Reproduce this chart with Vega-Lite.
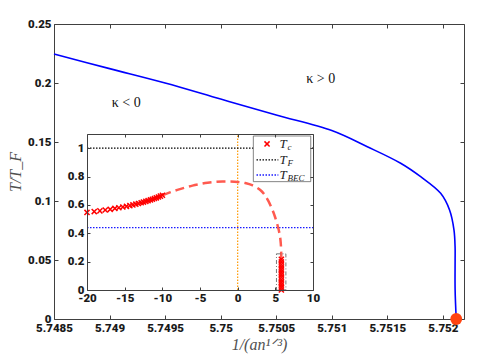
{
  "$schema": "https://vega.github.io/schema/vega-lite/v6.json",
  "width": 410,
  "height": 295,
  "autosize": {"type": "none"},
  "padding": {"left": 54, "top": 24, "right": 21, "bottom": 41},
  "background": "white",
  "config": {
    "view": {"stroke": null},
    "axis": {
      "labelFont": "Roboto",
      "labelFontWeight": 900,
      "labelFontSize": 11.5,
      "labelColor": "#1a1a1a",
      "labelFlush": false,
      "domainColor": "#404040",
      "tickColor": "#404040",
      "grid": false,
      "titleFont": "Liberation Serif",
      "titleFontStyle": "italic",
      "titleFontWeight": "normal",
      "titleColor": "#505050"
    }
  },
  "datasets": {
    "curve": [
      {"x": 5.7485, "y": 0.2246},
      {"x": 5.749, "y": 0.2122},
      {"x": 5.7495, "y": 0.2},
      {"x": 5.75, "y": 0.1864},
      {"x": 5.7505, "y": 0.1729},
      {"x": 5.751, "y": 0.1597},
      {"x": 5.75132, "y": 0.146},
      {"x": 5.75162, "y": 0.132},
      {"x": 5.7518, "y": 0.1206},
      {"x": 5.75198, "y": 0.1065},
      {"x": 5.75206, "y": 0.0924},
      {"x": 5.7521, "y": 0.0754},
      {"x": 5.75211, "y": 0.06},
      {"x": 5.75211, "y": 0.05},
      {"x": 5.75211, "y": 0.025},
      {"x": 5.75212, "y": 0}
    ],
    "dot": [{"x": 5.75212, "y": 0}],
    "kappa": [
      {"x": 5.74902, "y": 0.183, "label": "κ < 0"},
      {"x": 5.75077, "y": 0.2034, "label": "κ > 0"}
    ],
    "tc": [
      {"x": -20, "y": 0.547}, {"x": -19.04, "y": 0.553}, {"x": -18.29, "y": 0.558},
      {"x": -17.58, "y": 0.564}, {"x": -16.92, "y": 0.569}, {"x": -16.3, "y": 0.575},
      {"x": -15.77, "y": 0.58}, {"x": -15.24, "y": 0.585}, {"x": -14.76, "y": 0.59},
      {"x": -14.31, "y": 0.595}, {"x": -13.91, "y": 0.6}, {"x": -13.52, "y": 0.605},
      {"x": -13.17, "y": 0.61}, {"x": -12.81, "y": 0.615}, {"x": -12.51, "y": 0.62},
      {"x": -12.19, "y": 0.625}, {"x": -11.89, "y": 0.63}, {"x": -11.58, "y": 0.635},
      {"x": -11.32, "y": 0.64}, {"x": -11.05, "y": 0.645}, {"x": -10.79, "y": 0.65},
      {"x": -10.52, "y": 0.656}, {"x": -10.26, "y": 0.662}, {"x": -9.99, "y": 0.668},
      {"x": 5.8, "y": 0}, {"x": 5.81, "y": 0.018}, {"x": 5.8, "y": 0.036},
      {"x": 5.79, "y": 0.054}, {"x": 5.8, "y": 0.072}, {"x": 5.81, "y": 0.09},
      {"x": 5.8, "y": 0.108}, {"x": 5.79, "y": 0.126}, {"x": 5.8, "y": 0.144},
      {"x": 5.81, "y": 0.162}, {"x": 5.8, "y": 0.18}, {"x": 5.8, "y": 0.198},
      {"x": 5.8, "y": 0.216}
    ],
    "dashed": [
      {"x": -10, "y": 0.668}, {"x": -9, "y": 0.688}, {"x": -8, "y": 0.706},
      {"x": -7, "y": 0.722}, {"x": -6, "y": 0.736}, {"x": -5, "y": 0.747},
      {"x": -4, "y": 0.756}, {"x": -3, "y": 0.762}, {"x": -2, "y": 0.765},
      {"x": -1, "y": 0.765}, {"x": 0, "y": 0.762}, {"x": 1, "y": 0.754},
      {"x": 2, "y": 0.737}, {"x": 3, "y": 0.705}, {"x": 3.6, "y": 0.67},
      {"x": 4, "y": 0.635}, {"x": 4.5, "y": 0.58}, {"x": 4.93, "y": 0.52},
      {"x": 5.3, "y": 0.455}, {"x": 5.59, "y": 0.388}, {"x": 5.72, "y": 0.33},
      {"x": 5.78, "y": 0.26}, {"x": 5.8, "y": 0.15}, {"x": 5.81, "y": 0}
    ]
  },
  "layer": [
    {
      "encoding": {
        "x": {
          "field": "x", "type": "quantitative",
          "scale": {"domain": [5.7485, 5.75219], "nice": false, "zero": false},
          "axis": {
            "values": [5.7485, 5.749, 5.7495, 5.75, 5.7505, 5.751, 5.7515, 5.752],
            "format": "~g", "tickSize": -4, "labelPadding": 7,
            "title": "1/(an¹ᐟ³)", "titleFontSize": 16, "titlePadding": 3
          }
        },
        "y": {
          "field": "y", "type": "quantitative",
          "scale": {"domain": [0, 0.25], "nice": false},
          "axis": {
            "values": [0, 0.05, 0.1, 0.15, 0.2, 0.25],
            "format": "~g", "tickSize": -4, "labelPadding": 7,
            "title": "T/T_F", "titleFontSize": 16, "titlePadding": 4
          }
        }
      },
      "layer": [
        {"data": {"name": "curve"}, "mark": {"type": "line", "stroke": "#0000ff", "strokeWidth": 1.6, "interpolate": "catmull-rom"}},
        {"data": {"name": "kappa"}, "mark": {"type": "text", "align": "left", "baseline": "middle", "font": "Liberation Serif", "fontSize": 14, "fill": "#111"}, "encoding": {"text": {"field": "label"}}},
        {"data": {"name": "dot"}, "mark": {"type": "point", "filled": true, "shape": "circle", "size": 140, "fill": "#ff4411", "opacity": 1}}
      ]
    },
    {
      "data": {"name": "dot"},
      "mark": {"type": "point", "opacity": 0},
      "encoding": {
        "x": {
          "field": "x", "type": "quantitative",
          "scale": {"domain": [5.7485, 5.75219], "nice": false, "zero": false},
          "axis": {"orient": "top", "labels": false, "title": null, "tickSize": -4,
            "values": [5.7485, 5.749, 5.7495, 5.75, 5.7505, 5.751, 5.7515, 5.752]}
        },
        "y": {
          "field": "y", "type": "quantitative",
          "scale": {"domain": [0, 0.25], "nice": false},
          "axis": {"orient": "right", "labels": false, "title": null, "tickSize": -4,
            "values": [0, 0.05, 0.1, 0.15, 0.2, 0.25]}
        }
      }
    },
    {
      "encoding": {
        "x": {
          "field": "x", "type": "quantitative",
          "scale": {"domain": [-20, 10], "range": [33, 259], "nice": false, "zero": false},
          "axis": {
            "orient": "bottom", "offset": -29, "zindex": 1,
            "values": [-20, -15, -10, -5, 0, 5, 10], "tickSize": -3, "labelPadding": 5,
            "labelExpr": "replace(datum.label, '\u2212', '-')", "title": null
          }
        },
        "y": {
          "field": "y", "type": "quantitative",
          "scale": {"domain": [0, 1.1], "range": [266, 110], "nice": false, "zero": false},
          "axis": {
            "orient": "left", "offset": -33, "zindex": 1,
            "values": [0, 0.2, 0.4, 0.6, 0.8, 1], "format": "~g", "tickSize": -3, "labelPadding": 6,
            "title": null
          }
        }
      },
      "layer": [
        {"data": {"values": [{"x": -20, "x2": 10, "y": 0, "y2": 1.1}]}, "mark": {"type": "rect", "fill": "white", "strokeWidth": 0}, "encoding": {"x2": {"field": "x2"}, "y2": {"field": "y2"}}},
        {"data": {"values": [{"x": 0, "y": 0, "y2": 1.1}]}, "mark": {"type": "rule", "stroke": "#ff9900", "strokeWidth": 1.2, "strokeDash": [1.5, 1.5]}, "encoding": {"y2": {"field": "y2"}}},
        {"data": {"values": [{"x": -20, "x2": 10, "y": 1}]}, "mark": {"type": "rule", "stroke": "#000000", "strokeWidth": 1.2, "strokeDash": [1.5, 1.5]}, "encoding": {"x2": {"field": "x2"}}},
        {"data": {"values": [{"x": -20, "x2": 10, "y": 0.44}]}, "mark": {"type": "rule", "stroke": "#1a1aff", "strokeWidth": 1.3, "strokeDash": [1.5, 1.5]}, "encoding": {"x2": {"field": "x2"}}},
        {"data": {"name": "dashed"}, "mark": {"type": "line", "stroke": "#ff5a4f", "strokeWidth": 2.5, "strokeDash": [9, 5], "interpolate": "catmull-rom"}},
        {"data": {"name": "tc"}, "mark": {"type": "point", "shape": "M-1,-1L1,1M-1,1L1,-1", "filled": false, "stroke": "#ff0000", "strokeWidth": 1.5, "size": 26, "opacity": 1}},
        {"data": {"values": [{"x": 5.15, "x2": 6.4, "y": 0, "y2": 0.255}]}, "mark": {"type": "rect", "fill": null, "stroke": "#555555", "strokeWidth": 0.8, "strokeDash": [4, 2, 1, 2]}, "encoding": {"x2": {"field": "x2"}, "y2": {"field": "y2"}}},
        {"data": {"values": [{"x": 2.08, "x2": 9.7, "y": 0.764, "y2": 1.086}]}, "mark": {"type": "rect", "fill": "white", "stroke": "#666666", "strokeWidth": 0.8}, "encoding": {"x2": {"field": "x2"}, "y2": {"field": "y2"}}},
        {"data": {"values": [{"x": 3.9, "y": 1.03}]}, "mark": {"type": "point", "shape": "M-1,-1L1,1M-1,1L1,-1", "filled": false, "stroke": "#ff0000", "strokeWidth": 1.5, "size": 26, "opacity": 1}},
        {"data": {"values": [{"x": 2.5, "x2": 5.4, "y": 0.917}]}, "mark": {"type": "rule", "stroke": "#000000", "strokeWidth": 1.2, "strokeDash": [1.5, 1.5]}, "encoding": {"x2": {"field": "x2"}}},
        {"data": {"values": [{"x": 2.5, "x2": 5.4, "y": 0.811}]}, "mark": {"type": "rule", "stroke": "#1a1aff", "strokeWidth": 1.3, "strokeDash": [1.5, 1.5]}, "encoding": {"x2": {"field": "x2"}}},
        {
          "data": {"values": [
            {"x": 5.55, "y": 1.03, "t": "T", "s": "c"},
            {"x": 5.55, "y": 0.917, "t": "T", "s": "F"},
            {"x": 5.55, "y": 0.811, "t": "T", "s": "BEC"}
          ]},
          "layer": [
            {"mark": {"type": "text", "align": "left", "baseline": "middle", "font": "Liberation Serif", "fontStyle": "italic", "fontSize": 13, "fill": "#222"}, "encoding": {"text": {"field": "t"}}},
            {"mark": {"type": "text", "align": "left", "baseline": "middle", "font": "Liberation Serif", "fontStyle": "italic", "fontSize": 9, "fill": "#222", "dx": 8, "dy": 3}, "encoding": {"text": {"field": "s"}}}
          ]
        }
      ]
    },
    {
      "data": {"values": [{"x": 0, "y": 0}]},
      "mark": {"type": "point", "opacity": 0},
      "encoding": {
        "x": {
          "field": "x", "type": "quantitative",
          "scale": {"domain": [-20, 10], "range": [33, 259], "nice": false, "zero": false},
          "axis": {"orient": "top", "offset": -110, "zindex": 1, "labels": false, "title": null, "tickSize": -3,
            "values": [-20, -15, -10, -5, 0, 5, 10]}
        },
        "y": {
          "field": "y", "type": "quantitative",
          "scale": {"domain": [0, 1.1], "range": [266, 110], "nice": false, "zero": false},
          "axis": {"orient": "right", "offset": -151, "zindex": 1, "labels": false, "title": null, "tickSize": -3,
            "values": [0, 0.2, 0.4, 0.6, 0.8, 1]}
        }
      }
    }
  ],
  "resolve": {"scale": {"x": "independent", "y": "independent"}}
}
